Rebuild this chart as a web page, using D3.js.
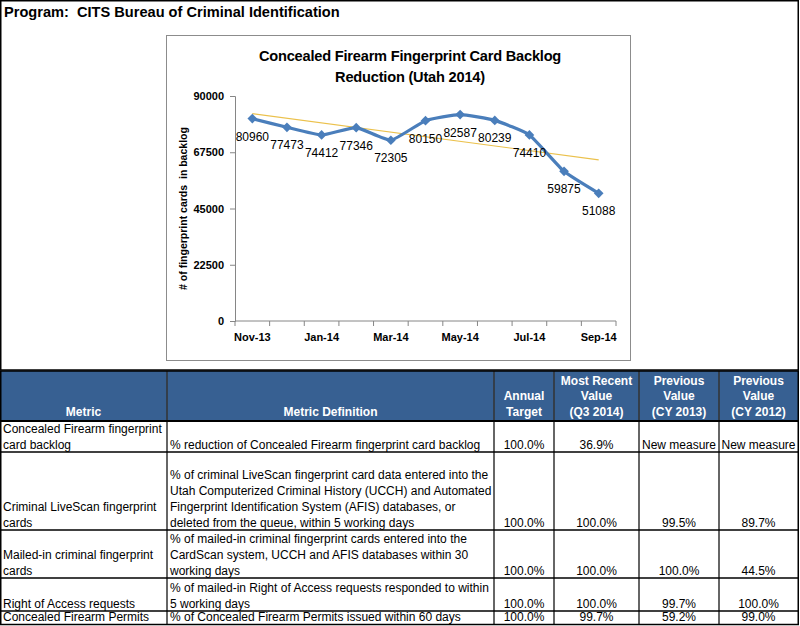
<!DOCTYPE html>
<html><head><meta charset="utf-8">
<script src="https://cdn.jsdelivr.net/npm/d3@7"></script>
<style>
html,body{margin:0;padding:0;background:#fff;}
svg{display:block;font-family:"Liberation Sans",Arial,sans-serif;}
</style></head>
<body><svg id="c" width="800" height="626"></svg>
<script>
// ---- data ----
const programTitle = "Program:  CITS Bureau of Criminal Identification";
const chartTitle = ["Concealed Firearm Fingerprint Card Backlog", "Reduction (Utah 2014)"];
const yAxisTitle = "# of fingerprint cards  in backlog";
const months = ["Nov-13","Dec-13","Jan-14","Feb-14","Mar-14","Apr-14","May-14","Jun-14","Jul-14","Aug-14","Sep-14"];
const backlog = [80960,77473,74412,77346,72305,80150,82587,80239,74410,59875,51088];
const yTicks = [0,22500,45000,67500,90000];
const xLabelMonths = ["Nov-13","Jan-14","Mar-14","May-14","Jul-14","Sep-14"];

const headers = [["Metric"],["Metric Definition"],["Annual","Target"],["Most Recent","Value","(Q3 2014)"],["Previous","Value","(CY 2013)"],["Previous","Value","(CY 2012)"]];
const metrics = [["Concealed Firearm fingerprint","card backlog"],["Criminal LiveScan fingerprint","cards"],["Mailed-in criminal fingerprint","cards"],["Right of Access requests"],["Concealed Firearm Permits"]];
const definitions = [
 ["% reduction of Concealed Firearm fingerprint card backlog"],
 ["% of criminal LiveScan fingerprint card data entered into the","Utah Computerized Criminal History (UCCH) and Automated","Fingerprint Identification System (AFIS) databases, or","deleted from the queue, within 5 working days"],
 ["% of mailed-in criminal fingerprint cards entered into the","CardScan system, UCCH and AFIS databases within 30","working days"],
 ["% of mailed-in Right of Access requests responded to within","5 working days"],
 ["% of Concealed Firearm Permits issued within 60 days"]];
const annualTarget = ["100.0%","100.0%","100.0%","100.0%","100.0%"];
const recentValue = ["36.9%","100.0%","100.0%","100.0%","99.7%"];
const prev2013 = ["New measure","99.5%","100.0%","99.7%","59.2%"];
const prev2012 = ["New measure","89.7%","44.5%","100.0%","99.0%"];

// ---- layout ----
const svg = d3.select("#c");
const frameBottom = 370;

svg.append("text").attr("x",4).attr("y",16.5).attr("font-size",14.6).attr("font-weight","bold")
  .attr("fill","#000").attr("xml:space","preserve").text(programTitle);

// chart box
const box = {x:166.5,y:35.5,w:464,h:325};
svg.append("rect").attr("x",box.x).attr("y",box.y).attr("width",box.w).attr("height",box.h)
  .attr("fill","#fff").attr("stroke","#8c8c8c").attr("stroke-width",1);

const plot = {left:235, right:616, top:96, bottom:321};
const x = d3.scaleBand().domain(months).range([plot.left, plot.right]).padding(0);
const y = d3.scaleLinear().domain([0,90000]).range([plot.bottom, plot.top]);
const cx = m => x(m) + x.bandwidth()/2;

svg.append("g").selectAll("text").data(chartTitle).join("text")
  .attr("x",410).attr("y",(d,i)=>61+i*21).attr("text-anchor","middle")
  .attr("font-size",14.6).attr("font-weight","bold").attr("letter-spacing",-0.2).text(d=>d);

// y axis
const yAxis = d3.axisLeft(y).tickValues(yTicks).tickSize(5).tickPadding(6).tickFormat(d3.format("d"));
const gy = svg.append("g").attr("transform",`translate(${plot.left},0)`).call(yAxis);
gy.select(".domain").attr("stroke","#868686");
gy.selectAll(".tick line").attr("stroke","#868686");
gy.selectAll(".tick text").attr("font-size",11).attr("font-weight","bold").attr("fill","#000")
  .attr("font-family","Liberation Sans, Arial, sans-serif");

// x axis: ticks at band boundaries
const gx = svg.append("g").attr("transform",`translate(0,${plot.bottom})`);
gx.append("line").attr("x1",plot.left).attr("x2",plot.right).attr("stroke","#868686");
const bounds = months.map(m=>x(m)).concat([plot.right]);
gx.selectAll("line.t").data(bounds).join("line").attr("class","t")
  .attr("x1",d=>d).attr("x2",d=>d).attr("y1",0).attr("y2",5).attr("stroke","#868686");
gx.selectAll("text").data(xLabelMonths).join("text")
  .attr("x",d=>cx(d)).attr("y",20).attr("text-anchor","middle")
  .attr("font-size",11).attr("font-weight","bold").text(d=>d);

// y title
svg.append("text").attr("transform",`translate(187,${(plot.top+plot.bottom)/2}) rotate(-90)`)
  .attr("text-anchor","middle").attr("font-size",10.5).attr("font-weight","bold")
  .attr("xml:space","preserve").text(yAxisTitle);

// trendline (least squares on data)
const n = backlog.length, idx = d3.range(n);
const mx = d3.mean(idx), my = d3.mean(backlog);
const slope = d3.sum(idx,i=>(i-mx)*(backlog[i]-my))/d3.sum(idx,i=>(i-mx)*(i-mx));
const icpt = my - slope*mx;
svg.append("line")
  .attr("x1",cx(months[0])).attr("y1",y(icpt))
  .attr("x2",cx(months[n-1])).attr("y2",y(icpt+slope*(n-1)))
  .attr("stroke","#EBC14C").attr("stroke-width",1.2);

// series line
const pts = months.map((m,i)=>({m,v:backlog[i]}));
svg.append("path").datum(pts)
  .attr("d",d3.line().x(d=>cx(d.m)).y(d=>y(d.v)).curve(d3.curveCardinal.tension(0.55)))
  .attr("fill","none").attr("stroke","#4A7EBB").attr("stroke-width",3.2).attr("stroke-linejoin","round");
svg.append("g").selectAll("path").data(pts).join("path")
  .attr("d",d3.symbol().type(d3.symbolDiamond2).size(60))
  .attr("transform",d=>`translate(${cx(d.m)},${y(d.v)})`)
  .attr("fill","#4A7EBB");

// data labels
svg.append("g").selectAll("text").data(pts).join("text")
  .attr("x",d=>cx(d.m)).attr("y",d=>y(d.v)+22).attr("text-anchor","middle")
  .attr("font-size",12).attr("fill","#000").text(d=>d.v);

// top frame
svg.append("rect").attr("x",0.75).attr("y",0.75).attr("width",797.5).attr("height",frameBottom-0.75)
  .attr("fill","none").attr("stroke","#000").attr("stroke-width",1.5);

// ---- table ----
const colX = [0,167,494,554,639,719,798];
const rowY = [371,421,452,530,578,611,624.5];
const lh = 15.7;
const tg = svg.append("g");
tg.append("rect").attr("x",0).attr("y",rowY[0]).attr("width",798).attr("height",rowY[1]-rowY[0]).attr("fill","#376092");

// header texts
headers.forEach((lines,c)=>{
  const xm = (colX[c]+colX[c+1])/2;
  tg.append("g").selectAll("text").data(lines).join("text")
    .attr("x",xm).attr("y",(d,i)=>rowY[1]-5-(lines.length-1-i)*lh)
    .attr("text-anchor","middle").attr("font-size",12).attr("font-weight","bold").attr("fill","#fff").text(d=>d);
});

// body
const cols = [metrics, definitions, annualTarget, recentValue, prev2013, prev2012];
cols.forEach((col,c)=>{
  col.forEach((cell,r)=>{
    const lines = Array.isArray(cell)?cell:[cell];
    const bottom = rowY[r+2];
    const left = c<2;
    tg.append("g").selectAll("text").data(lines).join("text")
      .attr("x", left ? colX[c]+3 : (colX[c]+colX[c+1])/2)
      .attr("y",(d,i)=>bottom-3.5-(lines.length-1-i)*lh)
      .attr("text-anchor", left?"start":"middle")
      .attr("font-size",12).attr("fill","#000").text(d=>d);
  });
});

// grid lines
tg.selectAll("line.v").data(colX.slice(1,-1)).join("line").attr("class","v")
  .attr("x1",d=>d).attr("x2",d=>d).attr("y1",rowY[0]).attr("y2",rowY[6])
  .attr("stroke","#333").attr("stroke-width",1.5);
tg.selectAll("line.h").data(rowY.slice(1,-1)).join("line").attr("class","h")
  .attr("x1",0).attr("x2",798).attr("y1",d=>d).attr("y2",d=>d)
  .attr("stroke","#000").attr("stroke-width",(d,i)=>i===0?2:1.5);
tg.append("rect").attr("x",0.75).attr("y",rowY[0]).attr("width",797.5).attr("height",rowY[6]-rowY[0])
  .attr("fill","none").attr("stroke","#000").attr("stroke-width",1.5);
</script></body></html>
